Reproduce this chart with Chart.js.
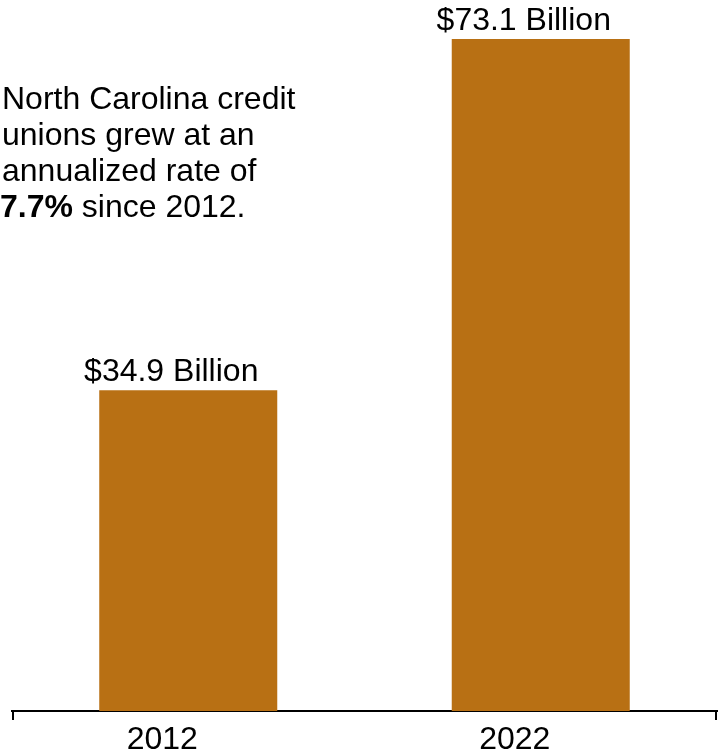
<!DOCTYPE html>
<html>
<head>
<meta charset="utf-8">
<script src="https://cdn.jsdelivr.net/npm/chart.js@4"></script>
<style>
  html, body { margin: 0; padding: 0; background: #fff; }
  #wrap { width: 726px; height: 749px; position: relative; }
</style>
</head>
<body>
<div id="wrap"><canvas id="growthChart"></canvas></div>
<script>
// --- Data ---
const years = ['2012', '2022'];
const assets = [34.9, 73.1];          // billions of dollars
const valueLabels = ['$34.9 Billion', '$73.1 Billion'];
const noteLines = ['North Carolina credit', 'unions grew at an', 'annualized rate of'];

const barColor = '#B87014';
const fontFamily = "'Liberation Sans', Arial, sans-serif";

// labels above each bar
const barLabelPlugin = {
    id: 'barLabels',
    afterDatasetsDraw(chart) {
        const ctx = chart.ctx;
        const meta = chart.getDatasetMeta(0);
        ctx.save();
        ctx.fillStyle = '#000';
        ctx.font = '32px ' + fontFamily;
        ctx.textAlign = 'center';
        ctx.textBaseline = 'alphabetic';
        meta.data.forEach((bar, i) => {
            ctx.fillText(valueLabels[i], bar.x - 17, bar.y - 9);
        });
        ctx.restore();
    }
};

// end ticks on the baseline + the side note
const decorPlugin = {
    id: 'decor',
    afterDraw(chart) {
        const ctx = chart.ctx;
        const area = chart.chartArea;
        ctx.save();
        ctx.strokeStyle = '#000';
        ctx.lineWidth = 2;
        ctx.beginPath();
        ctx.moveTo(area.left + 1, area.bottom);
        ctx.lineTo(area.left + 1, area.bottom + 9);
        ctx.moveTo(area.right - 1, area.bottom);
        ctx.lineTo(area.right - 1, area.bottom + 9);
        ctx.stroke();

        ctx.fillStyle = '#000';
        ctx.textAlign = 'left';
        ctx.textBaseline = 'alphabetic';
        ctx.font = '32px ' + fontFamily;
        noteLines.forEach((line, i) => ctx.fillText(line, 2, 109 + i * 36));
        ctx.font = 'bold 32px ' + fontFamily;
        const boldPart = '7.7%';
        ctx.fillText(boldPart, 0, 109 + 3 * 36);
        const w = ctx.measureText(boldPart).width;
        ctx.font = '32px ' + fontFamily;
        ctx.fillText(' since 2012.', w, 109 + 3 * 36);
        ctx.restore();
    }
};

new Chart(document.getElementById('growthChart'), {
    type: 'bar',
    data: {
        labels: years,
        datasets: [{
            data: assets,
            backgroundColor: barColor,
            borderWidth: 0,
            categoryPercentage: 1,
            barPercentage: 0.505
        }]
    },
    options: {
        responsive: true,
        maintainAspectRatio: false,
        animation: false,
        layout: { padding: { top: 39, left: 12, right: 9, bottom: 0 } },
        plugins: { legend: { display: false }, tooltip: { enabled: false } },
        scales: {
            y: { display: false, min: 0, max: 73.1 },
            x: {
                grid: { display: false },
                border: { display: true, color: '#000', width: 2 },
                afterFit(scale) { scale.height = 38; },
                ticks: {
                    color: '#000',
                    font: { family: fontFamily, size: 32 },
                    padding: 2,
                    labelOffset: -26
                }
            }
        }
    },
    plugins: [barLabelPlugin, decorPlugin]
});
</script>
</body>
</html>
